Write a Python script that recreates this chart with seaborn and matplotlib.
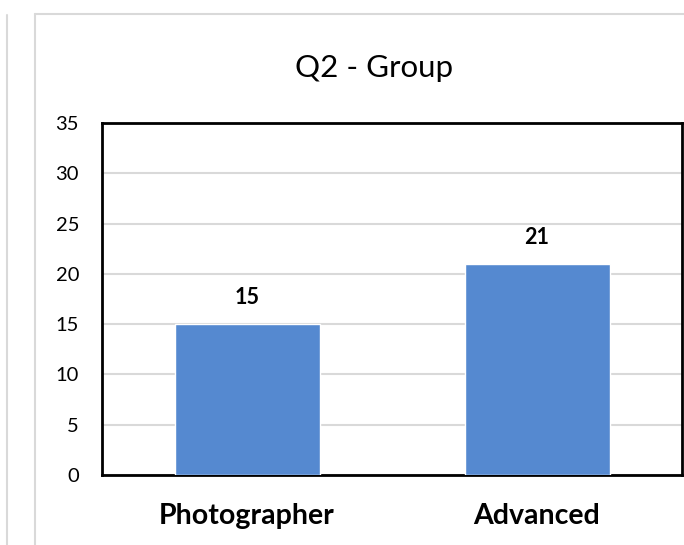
import matplotlib
matplotlib.use("Agg")
import matplotlib.pyplot as plt
import seaborn as sns
import pandas as pd
from matplotlib.lines import Line2D

categories = ["Photographer", "Advanced"]
values = [15, 21]
yticks = [0, 5, 10, 15, 20, 25, 30, 35]
title = "Q2 - Group"

sns.set_theme(style="white")
plt.rcParams['font.family'] = ['Lato', 'DejaVu Sans']

W, H = 684, 545
fig = plt.figure(figsize=(W / 100, H / 100), dpi=100)

# outer frames (neighbouring chart edge and this chart's frame)
fig.add_artist(Line2D([7 / W, 7 / W], [0, 1 - 15 / H], color="#D9D9D9", lw=1.5, transform=fig.transFigure))
fig.add_artist(Line2D([35 / W, 35 / W], [0, 1 - 14 / H], color="#D9D9D9", lw=1.5, transform=fig.transFigure))
fig.add_artist(Line2D([35 / W, 1], [1 - 14 / H, 1 - 14 / H], color="#D9D9D9", lw=1.5, transform=fig.transFigure))

ax = fig.add_axes([102 / W, 1 - 475 / H, (682 - 102) / W, (475 - 123) / H])
df = pd.DataFrame({"cat": categories, "val": values})
sns.barplot(data=df, x="cat", y="val", color="#5589D0", width=0.5, saturation=1, ax=ax, zorder=3)

ax.set_ylim(0, 35)
ax.set_yticks(yticks)
ax.set_xlim(-0.5, 1.5)
ax.yaxis.grid(True, color="#D9D9D9", lw=1.5, zorder=0)
ax.set_axisbelow(True)
for s in ax.spines.values():
    s.set_visible(True)
    s.set_color("black")
    s.set_linewidth(2)
ax.set_xlabel("")
ax.set_ylabel("")
ax.tick_params(axis="y", labelsize=14.5, colors="black", length=0, pad=16.5)
ax.tick_params(axis="x", labelsize=20.5, colors="black", length=0, pad=20)
for lbl in ax.get_xticklabels():
    lbl.set_fontweight("bold")

for i, v in enumerate(values):
    ax.annotate(str(v), (i, v), xytext=(0, 14.5), textcoords="offset points",
                ha="center", va="baseline", fontsize=15.5, fontweight="bold", color="black")

fig.text(374 / W, 1 - 77 / H, title, ha="center", va="baseline", fontsize=22.5, color="black")

fig.savefig("out.png", dpi=100, facecolor="white")
